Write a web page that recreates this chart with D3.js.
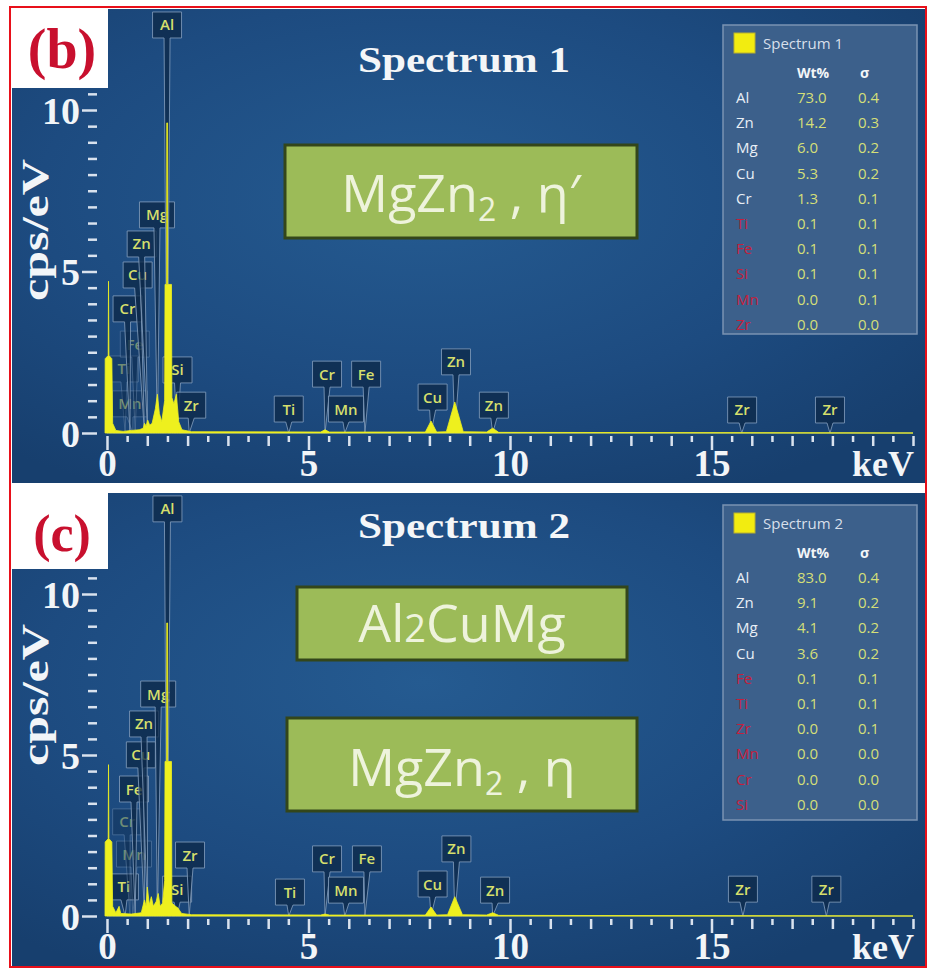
<!DOCTYPE html>
<html>
<head>
<meta charset="utf-8">
<script src="https://cdn.jsdelivr.net/npm/d3@7"></script>
<style>
  html, body { margin: 0; padding: 0; background: #ffffff; }
  svg { display: block; }
</style>
</head>
<body>
<svg id="chart" width="927" height="969"></svg>
<script>
// ---------------- data ----------------
const xTickLabels = [0, 5, 10, 15];
const yTickLabels = [0, 5, 10];

// EDS spectra: [energy keV, counts per eV]
const spectrum1 = [
  [-0.05, 0], [-0.045, 2.3], [0.03, 2.4], [0.038, 4.7], [0.048, 2.4], [0.12, 2.3], [0.14, 0.3],
  [0.22, 0.08], [0.4, 0.05], [0.6, 0.08], [0.8, 0.1], [0.9, 0.15], [0.93, 0.3], [0.97, 0.22],
  [1.01, 0.4], [1.06, 0.24], [1.12, 0.3], [1.2, 0.75], [1.25, 1.2], [1.3, 0.6], [1.36, 0.35],
  [1.43, 1.0], [1.44, 4.6], [1.48, 4.6], [1.483, 9.6], [1.503, 9.6], [1.506, 4.6], [1.6, 4.6],
  [1.61, 1.1], [1.66, 0.9], [1.72, 1.2], [1.78, 0.35], [1.86, 0.1], [2.1, 0.04], [5.3, 0.03],
  [5.41, 0.1], [5.52, 0.03], [7.9, 0.03], [8.04, 0.37], [8.18, 0.03], [8.42, 0.04], [8.63, 0.96],
  [8.84, 0.04], [9.42, 0.03], [9.57, 0.15], [9.72, 0.02], [20, 0]
];
const spectrum2 = [
  [-0.05, 0], [-0.045, 2.3], [0.03, 2.4], [0.038, 4.7], [0.048, 2.4], [0.12, 2.3], [0.14, 0.3],
  [0.22, 0.1], [0.3, 0.3], [0.34, 0.08], [0.6, 0.06], [0.85, 0.1], [0.93, 0.5], [0.97, 0.3],
  [1.0, 0.9], [1.05, 0.35], [1.1, 0.6], [1.15, 0.3], [1.22, 0.45], [1.27, 0.7], [1.32, 0.3],
  [1.38, 0.4], [1.43, 1.1], [1.44, 4.8], [1.48, 4.8], [1.483, 9.1], [1.503, 9.1], [1.506, 4.8],
  [1.6, 4.8], [1.61, 0.4], [1.7, 0.3], [1.76, 0.25], [1.85, 0.08], [2.1, 0.04], [5.3, 0.03],
  [5.41, 0.06], [5.52, 0.03], [7.9, 0.03], [8.04, 0.28], [8.18, 0.03], [8.45, 0.04], [8.63, 0.6],
  [8.82, 0.04], [9.42, 0.03], [9.57, 0.1], [9.72, 0.02], [20, 0]
];

// peak markers: element, line energy (keV), marker box centre (keV), box bottom level (cps/eV), faint
const markers1 = [
  ["Ti", 0.45, 0.42, 1.58, true], ["Mn", 0.64, 0.57, 0.50, true], ["Fe", 0.70, 0.69, 2.35, true],
  ["Cr", 0.57, 0.51, 3.44, false], ["Cu", 0.93, 0.76, 4.49, false], ["Zn", 1.01, 0.86, 5.45, false],
  ["Mg", 1.25, 1.24, 6.35, false], ["Al", 1.49, 1.49, 12.23, false], ["Si", 1.74, 1.75, 1.55, false],
  ["Zr", 2.04, 2.09, 0.46, false], ["Ti", 4.51, 4.51, 0.34, false], ["Cr", 5.41, 5.46, 1.42, false],
  ["Mn", 5.90, 5.93, 0.34, false], ["Fe", 6.40, 6.43, 1.42, false], ["Cu", 8.04, 8.08, 0.71, false],
  ["Zn", 8.63, 8.66, 1.80, false], ["Zn", 9.57, 9.60, 0.46, false], ["Zr", 15.75, 15.76, 0.31, false],
  ["Zr", 17.94, 17.94, 0.31, false]
];
const markers2 = [
  ["Ti", 0.45, 0.42, 0.50, false], ["Mn", 0.64, 0.67, 1.52, true], ["Cr", 0.57, 0.50, 2.52, true],
  ["Fe", 0.70, 0.67, 3.54, false], ["Cu", 0.93, 0.84, 4.60, false], ["Zn", 1.01, 0.92, 5.56, false],
  ["Mg", 1.25, 1.27, 6.49, false], ["Al", 1.49, 1.50, 12.24, false], ["Si", 1.74, 1.74, 0.43, false],
  ["Zr", 2.04, 2.06, 1.49, false], ["Ti", 4.51, 4.54, 0.34, false], ["Cr", 5.41, 5.46, 1.37, false],
  ["Mn", 5.90, 5.93, 0.40, false], ["Fe", 6.40, 6.45, 1.37, false], ["Cu", 8.04, 8.08, 0.59, false],
  ["Zn", 8.63, 8.67, 1.68, false], ["Zn", 9.57, 9.63, 0.40, false], ["Zr", 15.78, 15.78, 0.43, false],
  ["Zr", 17.85, 17.85, 0.43, false]
];

// quantification tables
const legend1Elements = ["Al", "Zn", "Mg", "Cu", "Cr", "Ti", "Fe", "Si", "Mn", "Zr"];
const legend1Wt       = [73.0, 14.2, 6.0, 5.3, 1.3, 0.1, 0.1, 0.1, 0.0, 0.0];
const legend1Sigma    = [0.4, 0.3, 0.2, 0.2, 0.1, 0.1, 0.1, 0.1, 0.1, 0.0];
const legend1Trace    = [false, false, false, false, false, true, true, true, true, true];

const legend2Elements = ["Al", "Zn", "Mg", "Cu", "Fe", "Ti", "Zr", "Mn", "Cr", "Si"];
const legend2Wt       = [83.0, 9.1, 4.1, 3.6, 0.1, 0.1, 0.0, 0.0, 0.0, 0.0];
const legend2Sigma    = [0.4, 0.2, 0.2, 0.2, 0.1, 0.1, 0.1, 0.0, 0.0, 0.0];
const legend2Trace    = [false, false, false, false, true, true, true, true, true, true];

// ---------------- drawing ----------------
const svg = d3.select("#chart");
const defs = svg.append("defs");
const glow = defs.append("radialGradient").attr("id", "bgGlow")
  .attr("cx", "0.45").attr("cy", "0.4").attr("r", "0.7");
glow.append("stop").attr("offset", "0%").attr("stop-color", "#255b91");
glow.append("stop").attr("offset", "60%").attr("stop-color", "#1d4b80");
glow.append("stop").attr("offset", "100%").attr("stop-color", "#173f6e");

const serif = "'Liberation Serif', 'DejaVu Serif', serif";
const sans = "'Open Sans', 'Noto Sans', sans-serif";
const fmt = d3.format(".1f");

function drawPanel(p) {
  const g = svg.append("g");
  const clipId = "clip" + p.id;
  defs.append("clipPath").attr("id", clipId)
    .append("rect").attr("x", p.left).attr("y", p.top).attr("width", p.right - p.left).attr("height", p.bottom - p.top);

  g.append("rect").attr("x", p.left).attr("y", p.top)
    .attr("width", p.right - p.left).attr("height", p.bottom - p.top)
    .attr("fill", "url(#bgGlow)");

  const x = d3.scaleLinear().domain([0, 20]).range([107, 913]);
  const y = d3.scaleLinear().domain([0, 10]).range([p.y0, p.y10]);
  const body = g.append("g").attr("clip-path", `url(#${clipId})`);

  // y axis (dash ticks every 0.5)
  const yAxis = body.append("g").attr("transform", "translate(97,0)")
    .call(d3.axisLeft(y).tickValues(d3.range(0, 10.51, 0.5))
      .tickFormat(d => yTickLabels.includes(d) ? d : ""));
  yAxis.select(".domain").remove();
  yAxis.selectAll(".tick line")
    .attr("x1", 0)
    .attr("x2", d => yTickLabels.includes(d) ? -15 : -9)
    .attr("stroke", "#d9e2ee").attr("stroke-width", 2.5);
  yAxis.selectAll(".tick text")
    .attr("x", -17).attr("dy", "0.35em")
    .attr("fill", "#f2f5f8").attr("font-family", serif).attr("font-weight", "bold")
    .attr("font-size", 38);

  // baseline
  body.append("line").attr("x1", x(0)).attr("x2", x(20)).attr("y1", y(0)).attr("y2", y(0))
    .attr("stroke", "#9fb4cc").attr("stroke-width", 1.2).attr("opacity", 0.7);

  // x axis (ticks every 0.5 keV)
  const xAxis = body.append("g").attr("transform", `translate(0,${y(0)})`)
    .call(d3.axisBottom(x).tickValues(d3.range(0, 20.01, 0.5))
      .tickFormat(d => xTickLabels.includes(d) ? d : ""));
  xAxis.select(".domain").remove();
  xAxis.selectAll(".tick line")
    .attr("y1", 3)
    .attr("y2", d => xTickLabels.includes(d) ? 17 : (Number.isInteger(d) ? 13 : 9))
    .attr("stroke", "#d9e2ee").attr("stroke-width", 2.5);
  xAxis.selectAll(".tick text")
    .attr("y", 43).attr("dy", 0)
    .attr("fill", "#f2f5f8").attr("font-family", serif).attr("font-weight", "bold")
    .attr("font-size", 37);

  body.append("text").attr("x", 852).attr("y", y(0) + 43)
    .attr("fill", "#f2f5f8").attr("font-family", serif).attr("font-weight", "bold")
    .attr("font-size", 36).text("keV");

  // axis title
  body.append("text")
    .attr("transform", `translate(48,${p.yTitle}) rotate(-90)`)
    .attr("text-anchor", "middle")
    .attr("fill", "#f2f5f8").attr("font-family", serif).attr("font-weight", "bold")
    .attr("font-size", 38).attr("textLength", 142).attr("lengthAdjust", "spacingAndGlyphs")
    .text("cps/eV");

  // peak markers
  const mk = body.append("g");
  p.markers.forEach(([el, energy, boxKeV, boxCps, faint]) => {
    const cx = x(boxKeV), bb = y(boxCps);
    const w = el.length === 1 ? 20 : (el === "Mg" || el === "Mn" ? 35 : 29), h = 26, k = 3;
    const path = d3.path();
    path.moveTo(cx - w / 2, bb - h);
    path.lineTo(cx + w / 2, bb - h);
    path.lineTo(cx + w / 2, bb);
    path.lineTo(cx + k, bb);
    path.lineTo(x(energy), y(0));
    path.lineTo(cx - k, bb);
    path.lineTo(cx - w / 2, bb);
    path.closePath();
    const m = mk.append("g").attr("opacity", faint ? 0.45 : 1);
    m.append("path").attr("d", path.toString())
      .attr("fill", "#0d2949").attr("fill-opacity", 0.78)
      .attr("stroke", "#7f9aba").attr("stroke-width", 1).attr("stroke-opacity", 0.85);
    m.append("text").attr("x", cx).attr("y", bb - 7.5)
      .attr("text-anchor", "middle")
      .attr("fill", "#d5df6c").attr("font-family", sans).attr("font-weight", 600)
      .attr("font-size", 15).text(el);
  });

  // spectrum
  const area = d3.area().x(d => x(d[0])).y0(y(0)).y1(d => y(d[1]));
  body.append("path").datum(p.spectrum).attr("d", area)
    .attr("fill", "#eef01e").attr("stroke", "#eef01e").attr("stroke-width", 0.8)
    .attr("stroke-linejoin", "round");

  // title
  body.append("text").attr("x", 464).attr("y", p.titleY).attr("text-anchor", "middle")
    .attr("fill", "#f4f6f8").attr("font-family", serif).attr("font-weight", "bold")
    .attr("font-size", 36).attr("textLength", 212).attr("lengthAdjust", "spacingAndGlyphs")
    .text(p.title);

  // phase boxes
  p.phases.forEach(ph => {
    body.append("rect").attr("x", ph.x).attr("y", ph.y).attr("width", ph.w).attr("height", ph.h)
      .attr("fill", "#9cbb58").attr("stroke", "#33461a").attr("stroke-width", 3);
    const t = body.append("text").attr("x", ph.x + ph.w / 2).attr("y", ph.base)
      .attr("text-anchor", "middle").attr("fill", "#eef3dc")
      .attr("font-family", sans).attr("font-size", 52);
    ph.parts.forEach(part => {
      const s = t.append("tspan").text(part.t);
      if (part.size) s.attr("font-size", part.size);
      if (part.dy) s.attr("dy", part.dy);
    });
  });

  // quantification table
  const L = p.legend;
  const lg = body.append("g");
  lg.append("rect").attr("x", 723).attr("y", L.top).attr("width", 194).attr("height", L.h)
    .attr("fill", "#3c608b").attr("stroke", "#7a93b2").attr("stroke-width", 1.5);
  lg.append("rect").attr("x", 734).attr("y", L.top + 8).attr("width", 21).attr("height", 20)
    .attr("fill", "#f2ec10").attr("stroke", "#b8b030").attr("stroke-width", 1);
  lg.append("text").attr("x", 763).attr("y", L.top + 24).attr("fill", "#d7dfea")
    .attr("font-family", sans).attr("font-size", 15).text(p.title);
  lg.append("text").attr("x", 797).attr("y", L.top + 53).attr("fill", "#f3f5f8")
    .attr("font-family", sans).attr("font-weight", "bold").attr("font-size", 14).text("Wt%");
  lg.append("text").attr("x", 860).attr("y", L.top + 53).attr("fill", "#f3f5f8")
    .attr("font-family", sans).attr("font-weight", "bold").attr("font-size", 14).text("σ");
  const rowY = d3.scaleLinear().domain([0, 1]).range([L.top + 78, L.top + 103.2]);
  L.elements.forEach((el, i) => {
    const yy = rowY(i);
    lg.append("text").attr("x", 736).attr("y", yy).attr("fill", L.trace[i] ? "#c41f3c" : "#e8eef5")
      .attr("font-family", sans).attr("font-size", 15).text(el);
    lg.append("text").attr("x", 797).attr("y", yy).attr("fill", "#d4df78")
      .attr("font-family", sans).attr("font-size", 15).text(fmt(L.wt[i]));
    lg.append("text").attr("x", 858).attr("y", yy).attr("fill", "#d4df78")
      .attr("font-family", sans).attr("font-size", 15).text(fmt(L.sigma[i]));
  });

  // panel letter
  g.append("rect").attr("x", p.left).attr("y", p.top).attr("width", 96).attr("height", p.letterH)
    .attr("fill", "#ffffff");
  g.append("text").attr("x", p.left + 50).attr("y", p.letterBase).attr("text-anchor", "middle")
    .attr("fill", "#c8102e").attr("font-family", serif).attr("font-weight", "bold")
    .attr("font-size", p.letterSize).text(p.letter);
}

drawPanel({
  id: 1, left: 12, right: 927, top: 9, bottom: 483, y0: 433, y10: 110,
  yTitle: 230, titleY: 72, title: "Spectrum 1",
  spectrum: spectrum1, markers: markers1,
  phases: [
    { x: 285, y: 145, w: 352, h: 93, base: 212,
      parts: [{ t: "MgZn" }, { t: "2", size: 32, dy: 9 }, { t: " , η′", size: 52, dy: -9 }] }
  ],
  legend: { top: 25, h: 309, elements: legend1Elements, wt: legend1Wt, sigma: legend1Sigma, trace: legend1Trace },
  letter: "(b)", letterH: 79, letterBase: 68, letterSize: 56
});

drawPanel({
  id: 2, left: 12, right: 927, top: 493, bottom: 966, y0: 916, y10: 594,
  yTitle: 695, titleY: 538, title: "Spectrum 2",
  spectrum: spectrum2, markers: markers2,
  phases: [
    { x: 297, y: 587, w: 330, h: 73, base: 642,
      parts: [{ t: "Al" }, { t: "2", size: 38 }, { t: "CuMg", size: 52 }] },
    { x: 287, y: 718, w: 350, h: 93, base: 786,
      parts: [{ t: "MgZn" }, { t: "2", size: 32, dy: 9 }, { t: " , η", size: 52, dy: -9 }] }
  ],
  legend: { top: 505, h: 315, elements: legend2Elements, wt: legend2Wt, sigma: legend2Sigma, trace: legend2Trace },
  letter: "(c)", letterH: 76, letterBase: 551, letterSize: 52
});

// outer frame
svg.append("rect").attr("x", 10).attr("y", 7).attr("width", 916).attr("height", 960)
  .attr("fill", "none").attr("stroke", "#e8101a").attr("stroke-width", 2);
</script>
</body>
</html>
